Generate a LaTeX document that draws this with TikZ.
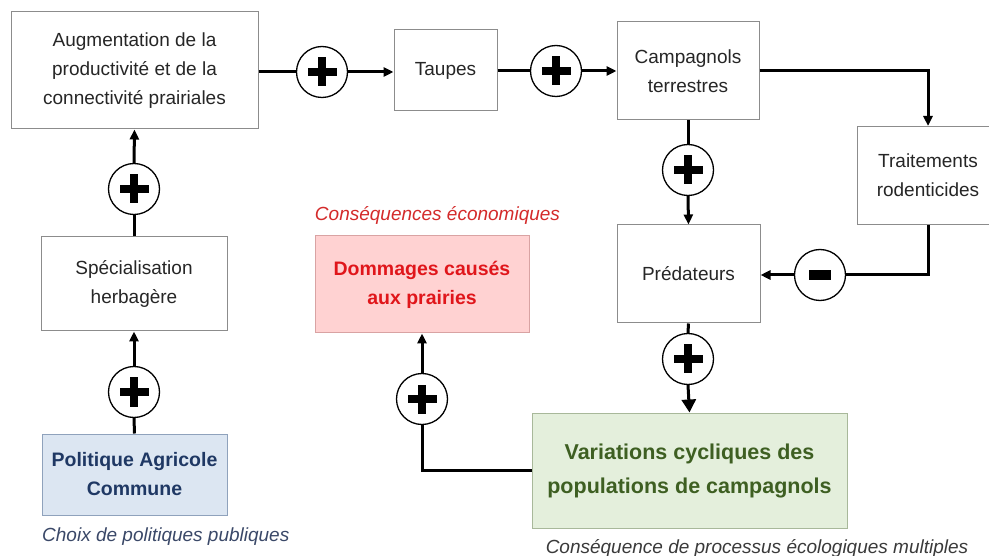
\documentclass[tikz,border=0pt]{standalone}
\usepackage{fontspec}
\setmainfont{Liberation Sans}
\usetikzlibrary{arrows.meta}
\definecolor{boxgray}{HTML}{8C8C8C}
\definecolor{pacfill}{HTML}{DCE6F2}
\definecolor{pacdraw}{HTML}{8FA2BC}
\definecolor{pactext}{HTML}{1F3864}
\definecolor{domfill}{HTML}{FFD2D2}
\definecolor{domdraw}{HTML}{D9A3A3}
\definecolor{domtext}{HTML}{E0161B}
\definecolor{capred}{HTML}{D42A2A}
\definecolor{varfill}{HTML}{E4EFDC}
\definecolor{vardraw}{HTML}{A8B89A}
\definecolor{vartext}{HTML}{3E5F22}
\definecolor{capblue}{HTML}{3A4868}
\definecolor{capgray}{HTML}{3A3A3A}
\tikzset{
  basebox/.style={draw=boxgray, line width=1pt, align=center, inner sep=0pt,
    font=\fontsize{19}{29}\selectfont},
  plainbox/.style={basebox, fill=white, text=black!85},
  sign/.style={draw=black, line width=1.3pt, circle, minimum size=51pt, inner sep=0pt, fill=white},
  plus/.style={sign, path picture={
      \fill[black] ([xshift=-14.5pt,yshift=-4pt]path picture bounding box.center) rectangle ([xshift=14.5pt,yshift=4pt]path picture bounding box.center);
      \fill[black] ([xshift=-4pt,yshift=-14.5pt]path picture bounding box.center) rectangle ([xshift=4pt,yshift=14.5pt]path picture bounding box.center);}},
  minus/.style={sign, path picture={
      \fill[black] ([xshift=-11pt,yshift=-5pt]path picture bounding box.center) rectangle ([xshift=11pt,yshift=5pt]path picture bounding box.center);}},
  link/.style={line width=3pt},
  arr/.style={line width=3pt, -{Triangle[length=10pt,width=9pt]}},
  bigarr/.style={line width=3pt, -{Triangle[length=13pt,width=14pt]}},
  caption/.style={font=\fontsize{19}{23}\selectfont\itshape, inner sep=0pt}
}
\begin{document}
\begin{tikzpicture}[x=1pt,y=-1pt]
\clip (0,0) rectangle (989,556);
\fill[white] (0,0) rectangle (989,556);

% boxes
\node[plainbox, minimum width=247pt, minimum height=117pt] (A) at (134.5,70.5)
  {Augmentation de la\\productivité et de la\\connectivité prairiales};
\node[plainbox, minimum width=103pt, minimum height=81pt] (T) at (445.5,70.5) {Taupes};
\node[plainbox, minimum width=142pt, minimum height=98pt] (C) at (688,71) {Campagnols\\terrestres};
\node[plainbox, minimum width=142pt, minimum height=98pt] (R) at (928,175.5) {Traitements\\rodenticides};
\node[plainbox, minimum width=143pt, minimum height=98pt] (P) at (688.5,274) {Prédateurs};
\node[plainbox, minimum width=186pt, minimum height=94pt] (S) at (134,284) {Spécialisation\\herbagère};
\node[basebox, draw=pacdraw, fill=pacfill, text=pactext, font=\fontsize{19.5}{29}\selectfont\bfseries,
  minimum width=185pt, minimum height=81pt] (PAC) at (134.5,474.5) {Politique Agricole\\Commune};
\node[basebox, draw=domdraw, fill=domfill, text=domtext, font=\fontsize{19.5}{29}\selectfont\bfseries,
  minimum width=214pt, minimum height=97pt] (D) at (422,284.5) {Dommages causés\\aux prairies};
\node[basebox, draw=vardraw, fill=varfill, text=vartext, font=\fontsize{21.5}{34}\selectfont\bfseries,
  minimum width=315pt, minimum height=115pt] (V) at (689.5,470.5) {Variations cycliques des\\populations de campagnols};

% captions
\node[caption, text=capred] (capD) at (437.5,215) {Conséquences économiques};
\node[caption, text=capblue, anchor=west] (capP) at (42,537) {Choix de politiques publiques};
\node[caption, text=capgray] (capV) at (757,548) {Conséquence de processus écologiques multiples};

% sign circles
\node[plus] (c1) at (322,72) {};
\node[plus] (c2) at (556,71) {};
\node[plus] (c3) at (688,170) {};
\node[minus] (cm) at (820,275) {};
\node[plus] (c4) at (688,359) {};
\node[plus] (c5) at (422,399) {};
\node[plus] (c6) at (134,189) {};
\node[plus] (c7) at (134,392) {};

% connectors
\draw[link] (A.east |- c1) -- (c1.west);
\draw[arr] (c1.east) -- (T.west |- c1);
\draw[link] (T.east |- c2) -- (c2.west);
\draw[arr] (c2.east) -- (C.west |- c2);
\draw[arr] (C.east) -| (R.north);
\draw[link] (C.south) -- (c3.north);
\draw[arr] (c3.south) -- (P.north);
\draw[link] (R.south) |- (cm.east);
\draw[arr] (cm.west) -- (P.east |- cm);
\draw[link] (P.south) -- (c4.north);
\draw[bigarr] (c4.south) -- (V.north);
\draw[link] (V.west) -| (c5.south);
\draw[arr] (c5.north) -- (D.south);
\draw[link] (PAC.north) -- (c7.south);
\draw[arr] (c7.north) -- (S.south);
\draw[link] (S.north) -- (c6.south);
\draw[arr] (c6.north) -- (A.south);
\end{tikzpicture}
\end{document}
